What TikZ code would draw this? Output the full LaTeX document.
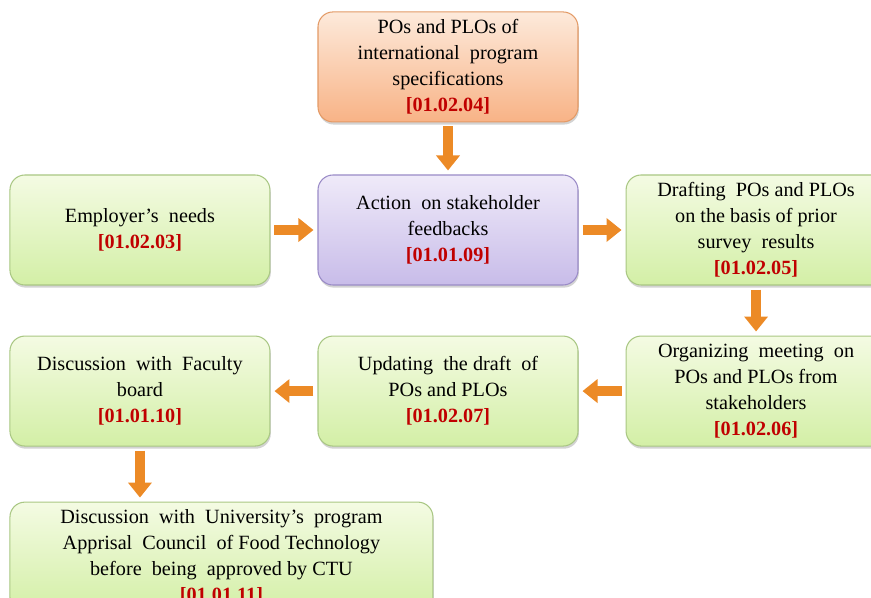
\documentclass[tikz,border=0pt]{standalone}
\usepackage{fontspec}
\setmainfont{Liberation Serif}
\usetikzlibrary{arrows.meta, positioning, shadows}
\definecolor{numred}{HTML}{C00000}
\definecolor{grtop}{HTML}{F4FBE3}
\definecolor{grbot}{HTML}{D3EFA6}
\definecolor{grline}{HTML}{A9C783}
\definecolor{ortop}{HTML}{FDEADB}
\definecolor{orbot}{HTML}{F8B386}
\definecolor{orline}{HTML}{E39A66}
\definecolor{putop}{HTML}{EFEAF9}
\definecolor{pubot}{HTML}{C8BCE9}
\definecolor{puline}{HTML}{9A8BC7}
\definecolor{arrorange}{HTML}{EC8A26}
\newcommand{\refno}[1]{\textbf{\textcolor{numred}{[#1]}}}

\begin{document}
\begin{tikzpicture}[
  node distance=1.0cm and 0.94cm,
  every node/.style={font=\fontsize{11.5}{14.8}\selectfont},
  box/.style={rectangle, rounded corners=0.3cm, draw=#1line, top color=#1top, bottom color=#1bot,
    minimum width=5.2cm, minimum height=2.2cm, align=center, line width=0.6pt,
    drop shadow={shadow xshift=0.5pt, shadow yshift=-1.5pt, opacity=0.35}},
  arrow/.style={-{Triangle[width=0.46cm, length=0.3cm]}, line width=0.2cm, draw=arrorange,
    shorten >=0.08cm, shorten <=0.08cm},
]
\useasboundingbox (0,0) rectangle (17.42,-11.96);

\node[box=pu] (action) at (8.96,-4.6) {Action\ \ on stakeholder\\feedbacks\\\refno{01.01.09}};
\node[box=or, above=1.04cm of action] (intl) {POs and PLOs of\\international\ \ program\\specifications\\\refno{01.02.04}};
\node[box=gr, left=of action] (employer) {Employer's\ \ needs\\\refno{01.02.03}};
\node[box=gr, right=of action] (drafting) {Drafting\ \ POs and PLOs\\on the basis of prior\\survey\ \ results\\\refno{01.02.05}};

\node[box=gr, below=of drafting] (meeting) {Organizing\ \ meeting\ \ on\\POs and PLOs from\\stakeholders\\\refno{01.02.06}};
\node[box=gr, below=of action] (updating) {Updating\ \ the draft\ \ of\\POs and PLOs\\\refno{01.02.07}};
\node[box=gr, below=of employer] (faculty) {Discussion\ \ with\ \ Faculty\\board\\\refno{01.01.10}};

\node[box=gr, minimum width=8.46cm, below right=1.1cm and 0cm of faculty.south west] (council)
  {Discussion\ \ with\ \ University's\ \ program\\Apprisal\ \ Council\ \ of Food Technology\\before\ \ being\ \ approved by CTU\\\refno{01.01.11}};

\draw[arrow] (intl) -- (action);
\draw[arrow] (employer) -- (action);
\draw[arrow] (action) -- (drafting);
\draw[arrow] (drafting) -- (meeting);
\draw[arrow] (meeting) -- (updating);
\draw[arrow] (updating) -- (faculty);
\draw[arrow] (faculty.south) -- (faculty.south |- council.north);
\end{tikzpicture}
\end{document}
